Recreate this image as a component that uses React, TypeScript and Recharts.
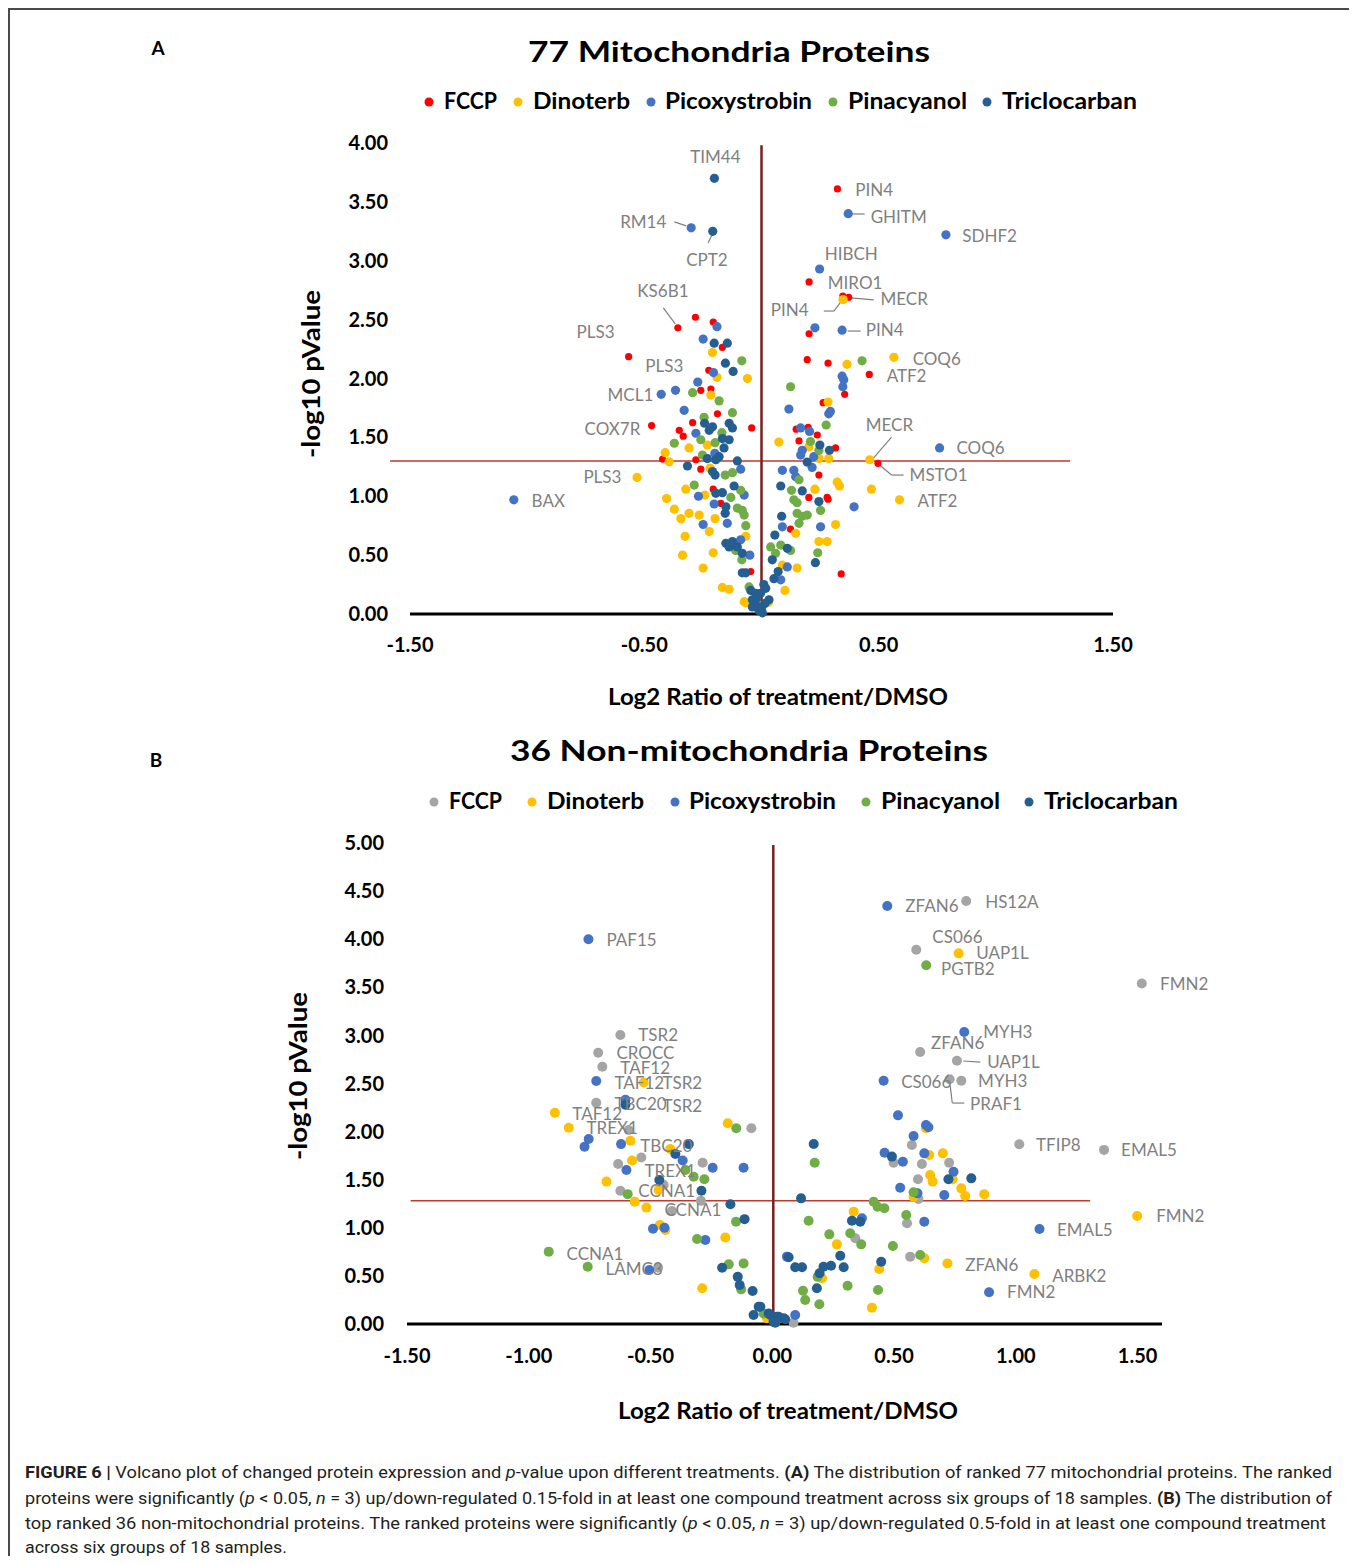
import React, { useEffect } from 'react';
import { ScatterChart, Scatter, XAxis, YAxis, ReferenceLine } from 'recharts';

type P = [number, number];

const seriesNames = ['FCCP', 'Dinoterb', 'Picoxystrobin', 'Pinacyanol', 'Triclocarban'];
const colorsA = ['#FF0000', '#FFC000', '#4472C4', '#70AD47', '#255E91'];
const colorsB = ['#A5A5A5', '#FFC000', '#4472C4', '#70AD47', '#255E91'];

const aXTicks = [-1.5, -0.5, 0.5, 1.5];
const aYTicks = [0, 0.5, 1, 1.5, 2, 2.5, 3, 3.5, 4];
const bXTicks = [-1.5, -1, -0.5, 0, 0.5, 1, 1.5];
const bYTicks = [0, 0.5, 1, 1.5, 2, 2.5, 3, 3.5, 4, 4.5, 5];

// ---------- Panel A (77 mitochondria proteins) ----------
const aFCCP: P[] = [
  [-0.357, 2.43], [-0.282, 2.52], [-0.206, 2.48], [-0.167, 2.265], [-0.567, 2.185], [-0.225, 2.07],
  [-0.259, 1.9], [-0.216, 1.91], [-0.188, 1.7], [-0.469, 1.6], [-0.294, 1.625], [-0.042, 1.58],
  [-0.351, 1.56], [-0.334, 1.51], [-0.422, 1.316], [-0.28, 1.31], [-0.259, 1.23], [-0.206, 1.06],
  [-0.174, 0.94], [-0.046, 0.36], [0.324, 3.61], [0.203, 2.82], [0.347, 2.7], [0.372, 2.69],
  [0.203, 2.38], [0.195, 2.16], [0.284, 2.13], [0.46, 2.035], [0.355, 1.866], [0.263, 1.795],
  [0.148, 1.57], [0.199, 1.585], [0.238, 1.52], [0.16, 1.47], [0.316, 1.41], [0.497, 1.28],
  [0.245, 1.18], [0.202, 0.99], [0.28, 0.99], [0.284, 0.975], [0.124, 0.72], [0.34, 0.34],
];
const aDinoterb: P[] = [
  [-0.209, 2.22], [-0.19, 2.01], [-0.06, 2.0], [-0.216, 1.86], [-0.231, 1.435], [-0.309, 1.41],
  [-0.411, 1.37], [-0.394, 1.293], [-0.22, 1.24], [-0.531, 1.16], [-0.323, 1.06], [-0.242, 1.01],
  [-0.405, 0.98], [-0.372, 0.89], [-0.344, 0.81], [-0.309, 0.855], [-0.266, 0.84], [-0.198, 0.81],
  [-0.223, 0.7], [-0.326, 0.66], [-0.067, 0.66], [-0.337, 0.5], [-0.206, 0.52], [-0.249, 0.39],
  [-0.167, 0.226], [-0.138, 0.21], [-0.067, 0.096], [-0.074, 0.105], [0.348, 2.67], [0.365, 2.12],
  [0.565, 2.18], [0.284, 1.8], [0.074, 1.46], [0.202, 1.42], [0.245, 1.32], [0.287, 1.32],
  [0.462, 1.31], [0.469, 1.06], [0.589, 0.97], [0.323, 1.12], [0.333, 1.087], [0.228, 1.06],
  [0.316, 0.76], [0.146, 0.685], [0.245, 0.615], [0.28, 0.615], [0.089, 0.415], [0.152, 0.39],
  [0.1, 0.2], [-0.02, 0.08], [0.03, 0.1],
];
const aPicoxystrobin: P[] = [
  [-0.3, 3.28], [-0.19, 2.44], [-0.249, 2.335], [-0.205, 2.05], [-0.272, 1.97], [-0.428, 1.866],
  [-0.367, 1.9], [-0.33, 1.73], [-0.28, 1.535], [-0.199, 1.365], [-0.089, 1.23], [-0.269, 1.0],
  [-0.074, 1.01], [-0.202, 0.934], [-0.249, 0.76], [-0.146, 0.77], [-0.089, 0.63], [-0.05, 0.5],
  [-1.057, 0.97], [0.37, 3.4], [0.787, 3.22], [0.248, 2.93], [0.228, 2.43], [0.344, 2.41],
  [0.344, 2.02], [0.351, 1.99], [0.347, 1.93], [0.117, 1.74], [0.287, 1.7], [0.294, 1.72],
  [0.167, 1.58], [0.205, 1.55], [0.174, 1.39], [0.167, 1.35], [0.223, 1.336], [0.216, 1.245],
  [0.76, 1.41], [0.395, 0.91], [0.089, 1.22], [0.138, 1.22], [0.146, 1.166], [0.089, 0.74],
  [0.252, 0.74], [0.11, 0.4], [0.082, 0.29],
];
const aPinacyanol: P[] = [
  [-0.084, 2.15], [-0.294, 1.88], [-0.181, 1.81], [-0.124, 1.71], [-0.245, 1.67], [-0.169, 1.54],
  [-0.259, 1.48], [-0.372, 1.45], [-0.198, 1.455], [-0.252, 1.35], [-0.155, 1.18], [-0.124, 1.2],
  [-0.287, 1.095], [-0.089, 1.05], [-0.131, 0.99], [-0.103, 0.9], [-0.074, 0.84], [-0.067, 0.75],
  [-0.11, 0.54], [-0.084, 0.46], [-0.082, 0.88], [0.429, 2.15], [0.124, 1.93], [0.276, 1.605],
  [0.209, 1.465], [0.245, 1.39], [0.16, 1.14], [0.128, 1.05], [0.138, 0.97], [0.152, 0.945],
  [0.252, 0.88], [0.152, 0.855], [0.174, 0.83], [0.195, 0.84], [0.16, 0.77], [0.039, 0.57],
  [0.082, 0.585], [0.124, 0.54], [0.06, 0.515], [0.24, 0.52], [-0.053, 0.23],
];
const aTriclocarban: P[] = [
  [-0.201, 3.7], [-0.208, 3.25], [-0.202, 2.3], [-0.146, 2.3], [-0.154, 2.13], [-0.121, 2.06],
  [-0.243, 1.62], [-0.209, 1.59], [-0.223, 1.56], [-0.138, 1.62], [-0.124, 1.58], [-0.167, 1.49],
  [-0.138, 1.48], [-0.16, 1.41], [-0.181, 1.336], [-0.231, 1.32], [-0.195, 1.31], [-0.103, 1.3],
  [-0.316, 1.257], [-0.209, 1.21], [-0.198, 1.18], [-0.117, 1.087], [-0.195, 1.025], [-0.167, 1.03],
  [-0.152, 0.91], [-0.155, 0.855], [-0.152, 0.6], [-0.124, 0.615], [-0.138, 0.57], [-0.103, 0.57],
  [-0.082, 0.35], [-0.046, 0.2], [-0.025, 0.12], [-0.011, 0.03], [-0.039, 0.06], [-0.004, 0.176],
  [0.249, 1.435], [0.29, 1.39], [0.195, 1.29], [0.082, 1.087], [0.174, 1.045], [0.245, 0.955],
  [0.086, 0.83], [0.057, 0.67], [0.11, 0.558], [0.046, 0.46], [0.23, 0.436], [0.071, 0.36],
  [0.053, 0.3], [-0.025, 0.176], [0.018, 0.218], [0.032, 0.12], [-0.01, 0.06], [0.004, 0.01],
  [-0.039, 0.12], [-0.082, 0.515], [-0.067, 0.35], [0.0, 0.05], [0.015, 0.09], [-0.02, 0.15],
  [0.01, 0.25],
];
const aLabels: [string, number, number][] = [
  ['TIM44', -0.304, 3.88], ['RM14', -0.603, 3.33], ['CPT2', -0.321, 3.006], ['KS6B1', -0.53, 2.743],
  ['PLS3', -0.789, 2.395], ['PLS3', -0.496, 2.106], ['MCL1', -0.657, 1.86], ['COX7R', -0.755, 1.571],
  ['PLS3', -0.76, 1.163], ['BAX', -0.981, 0.96], ['PIN4', 0.4, 3.6], ['GHITM', 0.466, 3.37],
  ['SDHF2', 0.857, 3.21], ['HIBCH', 0.27, 3.057], ['MIRO1', 0.283, 2.81], ['MECR', 0.508, 2.675],
  ['PIN4', 0.04, 2.58], ['PIN4', 0.445, 2.41], ['COQ6', 0.645, 2.17], ['ATF2', 0.534, 2.02],
  ['MECR', 0.445, 1.605], ['COQ6', 0.832, 1.41], ['MSTO1', 0.632, 1.18], ['ATF2', 0.666, 0.96],
];
const aLeaders: P[][] = [
  [[-0.372, 3.33], [-0.321, 3.296]],
  [[-0.228, 3.15], [-0.211, 3.22]],
  [[-0.419, 2.6], [-0.368, 2.463]],
  [[0.385, 3.397], [0.44, 3.397]],
  [[0.381, 2.684], [0.479, 2.667]],
  [[0.266, 2.573], [0.309, 2.573]],
  [[0.309, 2.573], [0.347, 2.675]],
  [[0.368, 2.403], [0.423, 2.403]],
  [[0.555, 1.503], [0.474, 1.316]],
  [[0.504, 1.265], [0.555, 1.18]],
  [[0.555, 1.18], [0.606, 1.18]],
];
const aThresholdLine: P[] = [[-1.585, 1.3], [1.317, 1.3]];
const aZeroLine: P[] = [[0, 0], [0, 3.98]];

// ---------- Panel B (36 non-mitochondria proteins) ----------
const bFCCP: P[] = [
  [0.796, 4.397], [0.591, 3.89], [1.517, 3.54], [-0.624, 3.004], [-0.715, 2.82], [-0.698, 2.675],
  [-0.723, 2.3], [-0.59, 2.017], [-0.538, 1.73], [-0.633, 1.663], [-0.286, 1.677], [-0.624, 1.386],
  [-0.293, 1.28], [-0.412, 1.175], [-0.469, 0.585], [-0.086, 2.034], [-0.446, 1.445], [0.607, 2.827],
  [0.758, 2.737], [0.728, 2.544], [0.776, 2.529], [0.573, 1.86], [1.014, 1.868], [0.498, 1.677],
  [0.614, 1.663], [0.726, 1.677], [0.598, 1.504], [0.6, 1.3], [0.553, 1.047], [0.341, 0.891],
  [0.566, 0.7], [0.087, 0.013], [1.362, 1.81],
];
const bDinoterb: P[] = [
  [0.765, 3.853], [-0.528, 2.51], [-0.893, 2.196], [-0.836, 2.04], [-0.583, 1.905], [-0.419, 1.82],
  [-0.576, 1.7], [-0.681, 1.48], [-0.467, 1.393], [-0.565, 1.27], [-0.517, 1.21], [-0.462, 1.03],
  [-0.439, 0.977], [-0.193, 0.9], [-0.288, 0.371], [-0.183, 2.086], [-0.022, 0.059], [0.631, 2.034],
  [0.644, 1.757], [0.7, 1.774], [0.648, 1.549], [0.658, 1.48], [0.74, 1.504], [0.776, 1.41],
  [0.792, 1.33], [0.87, 1.35], [0.58, 1.323], [0.334, 1.168], [0.265, 0.828], [0.204, 0.475],
  [0.439, 0.572], [0.624, 0.683], [0.719, 0.63], [0.409, 0.17], [1.076, 0.52], [1.498, 1.123],
];
const bPicoxystrobin: P[] = [
  [0.472, 4.345], [-0.755, 4.0], [-0.723, 2.526], [-0.603, 2.33], [-0.754, 1.923], [-0.771, 1.843],
  [-0.621, 1.87], [-0.368, 1.7], [-0.599, 1.6], [-0.245, 1.625], [-0.118, 1.625], [-0.49, 0.99],
  [-0.443, 1.0], [-0.275, 0.873], [-0.505, 0.561], [0.06, 0.7], [0.788, 3.035], [0.457, 2.529],
  [0.516, 2.169], [0.631, 2.069], [0.641, 2.045], [0.58, 1.954], [0.461, 1.781], [0.536, 1.687],
  [0.624, 1.774], [0.744, 1.583], [0.525, 1.417], [0.706, 1.34], [0.596, 1.358], [0.368, 1.099],
  [0.624, 1.063], [1.097, 0.988], [0.89, 0.33], [0.094, 0.094],
];
const bPinacyanol: P[] = [
  [0.632, 3.73], [-0.357, 1.6], [-0.323, 1.53], [-0.279, 1.504], [-0.594, 1.35], [-0.149, 1.063],
  [-0.309, 0.884], [-0.918, 0.752], [-0.758, 0.596], [-0.179, 0.62], [-0.118, 0.63], [-0.128, 0.36],
  [-0.036, 0.11], [-0.148, 2.034], [0.174, 1.677], [0.58, 1.369], [0.416, 1.271], [0.432, 1.219],
  [0.46, 1.203], [0.149, 1.074], [0.55, 1.133], [0.234, 0.932], [0.32, 0.943], [0.365, 0.828],
  [0.495, 0.811], [0.186, 0.49], [0.607, 0.717], [0.126, 0.346], [0.135, 0.25], [0.309, 0.398],
  [0.434, 0.353], [0.193, 0.205],
];
const bTriclocarban: P[] = [
  [-0.603, 2.28], [-0.343, 1.87], [-0.398, 1.767], [-0.464, 1.497], [-0.291, 1.386], [-0.172, 1.244],
  [-0.114, 1.09], [-0.206, 0.585], [-0.142, 0.49], [-0.134, 0.405], [-0.081, 0.343], [-0.056, 0.18],
  [-0.077, 0.094], [-0.015, 0.11], [0.019, 0.076], [0.046, 0.059], [0.012, 0.013], [0.17, 1.871],
  [0.491, 1.74], [0.723, 1.504], [0.817, 1.514], [0.118, 1.306], [0.327, 1.074], [0.361, 1.063],
  [0.067, 0.693], [0.094, 0.589], [0.122, 0.589], [0.279, 0.71], [0.293, 0.589], [0.21, 0.596],
  [0.241, 0.606], [0.194, 0.527], [0.183, 0.371], [0.447, 0.648], [-0.049, 0.18], [-0.008, 0.094],
  [0.026, 0.076], [0.053, 0.049], [0.005, 0.024],
];
const bLabels: [string, number, number][] = [
  ['ZFAN6', 0.546, 4.345], ['HS12A', 0.874, 4.387], ['PAF15', -0.681, 3.99], ['CS066', 0.657, 4.02],
  ['UAP1L', 0.837, 3.857], ['PGTB2', 0.693, 3.69], ['FMN2', 1.592, 3.534], ['TSR2', -0.55, 3.004],
  ['CROCC', -0.64, 2.817], ['TAF12', -0.624, 2.66], ['TAF12', -0.648, 2.505], ['TSR2', -0.451, 2.505],
  ['TBC20', -0.648, 2.287], ['TSR2', -0.451, 2.266], ['TAF12', -0.821, 2.183], ['TREX1', -0.763, 2.037],
  ['TBC20', -0.542, 1.85], ['TREX1', -0.525, 1.59], ['CCNA1', -0.55, 1.383], ['CCNA1', -0.443, 1.185],
  ['CCNA1', -0.845, 0.728], ['LAMC3', -0.685, 0.572], ['MYH3', 0.866, 3.035], ['ZFAN6', 0.652, 2.92],
  ['UAP1L', 0.882, 2.723], ['CS066', 0.529, 2.516], ['MYH3', 0.845, 2.526], ['PRAF1', 0.812, 2.287],
  ['TFIP8', 1.083, 1.86], ['EMAL5', 1.432, 1.81], ['FMN2', 1.576, 1.123], ['EMAL5', 1.169, 0.977],
  ['ZFAN6', 0.792, 0.613], ['ARBK2', 1.149, 0.499], ['FMN2', 0.964, 0.333],
];
const bLeaders: P[][] = [
  [[0.784, 2.734], [0.854, 2.723]],
  [[0.73, 2.48], [0.739, 2.297]],
  [[0.739, 2.297], [0.788, 2.297]],
];
const bThresholdLine: P[] = [[-1.485, 1.28], [1.305, 1.28]];
const bZeroLine: P[] = [[0.004, 0], [0.004, 4.98]];

// ---------- helpers ----------
const FONT = "Lato, 'DejaVu Sans', sans-serif";
const toPts = (arr: P[]) => arr.map(([x, y]) => ({ x, y }));
const toLabels = (arr: [string, number, number][]) => arr.map(([text, x, y]) => ({ x, y, text }));
const fmt = (v: number) => v.toFixed(2);

const dotShape = (r: number, fill: string) => (props: any) => {
  if (props.cx == null || props.cy == null) return <g />;
  return <circle cx={props.cx} cy={props.cy} r={r} fill={fill} />;
};
const labelShape = (props: any) => {
  if (props.cx == null || props.cy == null) return <g />;
  return (
    <text x={props.cx} y={props.cy} dy="0.36em" textAnchor="start" fontFamily={FONT} fontSize={17} fill="#7F7F7F">
      {props.payload.text}
    </text>
  );
};
const tickStyle = { fontFamily: FONT, fontWeight: 700, fontSize: 20, fill: '#000' };

function Volcano(props: {
  width: number; height: number; margin: any; xDomain: [number, number]; xTicks: number[];
  yDomain: [number, number]; yTicks: number[]; xTickMargin: number; yTickMargin: number;
  series: P[][]; colors: string[]; radii: number[]; labels: [string, number, number][];
  leaders: P[][]; threshold: P[]; zero: P[];
}) {
  return (
    <ScatterChart width={props.width} height={props.height} margin={props.margin} style={{ overflow: 'visible' }}>
      <XAxis
        type="number" dataKey="x" domain={props.xDomain} ticks={props.xTicks} interval={0}
        tickFormatter={fmt} axisLine={{ stroke: '#000', strokeWidth: 3 }} tickLine={false}
        tickSize={0} tickMargin={props.xTickMargin} height={40} tick={tickStyle}
      />
      <YAxis
        type="number" dataKey="y" domain={props.yDomain} ticks={props.yTicks} interval={0}
        tickFormatter={fmt} axisLine={false} tickLine={false} tickSize={0}
        tickMargin={props.yTickMargin} width={60} tick={tickStyle}
      />
      <ReferenceLine
        segment={[{ x: props.threshold[0][0], y: props.threshold[0][1] }, { x: props.threshold[1][0], y: props.threshold[1][1] }]}
        stroke="#C0392B" strokeWidth={1.5} ifOverflow="visible"
      />
      <ReferenceLine
        segment={[{ x: props.zero[0][0], y: props.zero[0][1] }, { x: props.zero[1][0], y: props.zero[1][1] }]}
        stroke="#7A1F1F" strokeWidth={2.5} ifOverflow="visible"
      />
      {props.leaders.map((seg, i) => (
        <ReferenceLine
          key={'l' + i}
          segment={[{ x: seg[0][0], y: seg[0][1] }, { x: seg[1][0], y: seg[1][1] }]}
          stroke="#7F7F7F" strokeWidth={1.2} ifOverflow="visible"
        />
      ))}
      {props.series.map((s, i) => (
        <Scatter
          key={seriesNames[i]} name={seriesNames[i]} data={toPts(s)}
          shape={dotShape(props.radii[i], props.colors[i])} isAnimationActive={false}
        />
      ))}
      <Scatter name="labels" data={toLabels(props.labels)} shape={labelShape} isAnimationActive={false} />
    </ScatterChart>
  );
}

const legendA = { y: 101, dots: [429, 518, 651, 833, 987], texts: [[444, 53], [533, 97], [665, 147], [848, 119], [1002, 135]] };
const legendB = { y: 801, dots: [434, 532, 675, 866, 1029], texts: [[449, 53], [547, 97], [689, 147], [881, 119], [1044, 134]] };

function LegendRow({ cfg, colors }: { cfg: typeof legendA; colors: string[] }) {
  return (
    <g>
      {seriesNames.map((n, i) => (
        <g key={n}>
          <circle cx={cfg.dots[i]} cy={cfg.y + 1} r={4.5} fill={colors[i]} />
          <text x={cfg.texts[i][0]} y={cfg.y + 8} fontFamily={FONT} fontWeight={700} fontSize={23}
            textLength={cfg.texts[i][1]} lengthAdjust="spacingAndGlyphs" fill="#000">{n}</text>
        </g>
      ))}
    </g>
  );
}

const CAP = { fontFamily: "Roboto, 'Liberation Sans', sans-serif", fontSize: 17, fill: '#231F20' } as const;

export default function App() {
  useEffect(() => {
    document.body.style.overflow = 'hidden';
  }, []);
  return (
    <div style={{ position: 'relative', width: 1341, height: 1548 }}>
      <div
        style={{
          position: 'absolute', left: 0, top: 0, width: 1345, height: 1560, boxSizing: 'border-box',
          borderTop: '2px solid #4a4a4a', borderLeft: '2px solid #4a4a4a', borderRight: '2px solid #4a4a4a',
        }}
      />
      <div style={{ position: 'absolute', left: 0, top: 0 }}>
        <Volcano
          width={1341} height={700} margin={{ top: 135, right: 236, bottom: 54, left: 342 }}
          xDomain={[-1.5, 1.5]} xTicks={aXTicks} yDomain={[0, 4]} yTicks={aYTicks}
          xTickMargin={24} yTickMargin={22}
          series={[aFCCP, aDinoterb, aPicoxystrobin, aPinacyanol, aTriclocarban]}
          colors={colorsA} radii={[3.6, 4.6, 4.6, 4.6, 4.6]} labels={aLabels} leaders={aLeaders}
          threshold={aThresholdLine} zero={aZeroLine}
        />
      </div>
      <div style={{ position: 'absolute', left: 0, top: 707 }}>
        <Volcano
          width={1341} height={700} margin={{ top: 128, right: 187, bottom: 51, left: 339 }}
          xDomain={[-1.5, 1.6]} xTicks={bXTicks} yDomain={[0, 5]} yTicks={bYTicks}
          xTickMargin={25} yTickMargin={23}
          series={[bFCCP, bDinoterb, bPicoxystrobin, bPinacyanol, bTriclocarban]}
          colors={colorsB} radii={[5, 5, 5, 5, 5]} labels={bLabels} leaders={bLeaders}
          threshold={bThresholdLine} zero={bZeroLine}
        />
      </div>
      <svg width={1340} height={1564} style={{ position: 'absolute', left: -8, top: -8, pointerEvents: 'none' }}>
        <text x={158} y={55} textAnchor="middle" fontFamily={FONT} fontWeight={700} fontSize={19}>A</text>
        <text x={156} y={767} textAnchor="middle" fontFamily={FONT} fontWeight={700} fontSize={19}>B</text>

        <text x={528} y={62} fontFamily={FONT} fontWeight={700} fontSize={28} textLength={402} lengthAdjust="spacingAndGlyphs">77 Mitochondria Proteins</text>
        <LegendRow cfg={legendA} colors={colorsA} />
        <text x={608} y={705} fontFamily={FONT} fontWeight={700} fontSize={23} textLength={340} lengthAdjust="spacingAndGlyphs">Log2 Ratio of treatment/DMSO</text>
        <text transform="translate(320,374) rotate(-90)" textAnchor="middle" fontFamily={FONT} fontWeight={700} fontSize={24} textLength={168} lengthAdjust="spacingAndGlyphs">-log10 pValue</text>

        <text x={510} y={761} fontFamily={FONT} fontWeight={700} fontSize={28} textLength={478} lengthAdjust="spacingAndGlyphs">36 Non-mitochondria Proteins</text>
        <LegendRow cfg={legendB} colors={colorsB} />
        <text x={618} y={1419} fontFamily={FONT} fontWeight={700} fontSize={23} textLength={340} lengthAdjust="spacingAndGlyphs">Log2 Ratio of treatment/DMSO</text>
        <text transform="translate(307,1076) rotate(-90)" textAnchor="middle" fontFamily={FONT} fontWeight={700} fontSize={24} textLength={168} lengthAdjust="spacingAndGlyphs">-log10 pValue</text>

        <text x={25} y={1478} {...CAP} textLength={1307} lengthAdjust="spacingAndGlyphs">
          <tspan fontWeight={700}>FIGURE 6 |</tspan>{' Volcano plot of changed protein expression and '}
          <tspan fontStyle="italic">p</tspan>{'-value upon different treatments. '}
          <tspan fontWeight={700}>(A)</tspan>{' The distribution of ranked 77 mitochondrial proteins. The ranked'}
        </text>
        <text x={25} y={1504} {...CAP} textLength={1307} lengthAdjust="spacingAndGlyphs">
          {'proteins were significantly ('}<tspan fontStyle="italic">p</tspan>{' < 0.05, '}
          <tspan fontStyle="italic">n</tspan>{' = 3) up/down-regulated 0.15-fold in at least one compound treatment across six groups of 18 samples. '}
          <tspan fontWeight={700}>(B)</tspan>{' The distribution of'}
        </text>
        <text x={25} y={1529} {...CAP} textLength={1301} lengthAdjust="spacingAndGlyphs">
          {'top ranked 36 non-mitochondrial proteins. The ranked proteins were significantly ('}
          <tspan fontStyle="italic">p</tspan>{' < 0.05, '}<tspan fontStyle="italic">n</tspan>
          {' = 3) up/down-regulated 0.5-fold in at least one compound treatment'}
        </text>
        <text x={25} y={1553} {...CAP} textLength={262} lengthAdjust="spacingAndGlyphs">across six groups of 18 samples.</text>
      </svg>
    </div>
  );
}
